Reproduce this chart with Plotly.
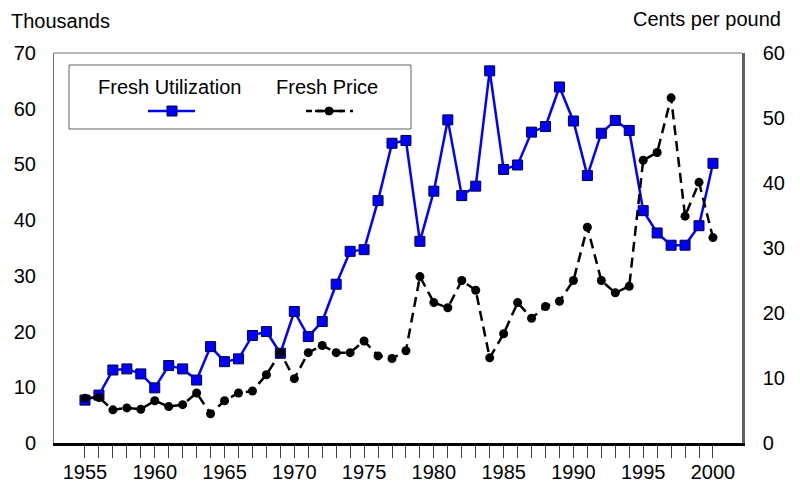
import plotly.graph_objects as go

years = list(range(1955, 2001))
utilization = [7.7, 8.6, 13.1, 13.3, 12.4, 9.9, 13.9, 13.3, 11.3, 17.3,
               14.6, 15.1, 19.3, 20.0, 16.1, 23.6, 19.1, 21.8, 28.5, 34.4,
               34.7, 43.5, 53.8, 54.3, 36.2, 45.2, 58.0, 44.4, 46.1, 66.8,
               49.1, 49.9, 55.8, 56.8, 63.9, 57.8, 48.0, 55.6, 57.9, 56.1,
               41.7, 37.7, 35.5, 35.5, 39.0, 50.2]
price = [6.9, 7.0, 5.1, 5.4, 5.2, 6.5, 5.6, 5.9, 7.7, 4.5,
         6.5, 7.7, 8.0, 10.5, 13.9, 9.9, 13.9, 15.0, 13.9, 13.9,
         15.7, 13.4, 13.0, 14.2, 25.6, 21.6, 20.8, 25.0, 23.5, 13.1,
         16.8, 21.6, 19.2, 21.0, 21.8, 25.0, 33.2, 25.0, 23.1, 24.1,
         43.5, 44.7, 53.1, 34.9, 40.1, 31.6]
tick_labels = [str(y) if y % 5 == 0 else "" for y in years]
left_ticks = [0, 10, 20, 30, 40, 50, 60, 70]
right_ticks = [0, 10, 20, 30, 40, 50, 60]

FONT = "Liberation Sans, Arial, sans-serif"
OFF = 8  # page body margin
W, H = 800 - OFF, 484 - OFF
L, T = 54 - OFF, 53 - OFF
R = W - (742 - OFF)
B = H - (443 - OFF)
PW, PH = W - L - R, H - T - B

def px(x):
    return (x - OFF - L) / PW

def py(y):
    return (H - B - (y - OFF)) / PH

fig = go.Figure()
fig.add_trace(go.Scatter(
    x=years, y=utilization, name="Fresh Utilization", mode="lines+markers",
    line=dict(color="#0000FF", width=2.5),
    marker=dict(symbol="square", size=10, color="#0000FF",
                line=dict(color="#000040", width=1)),
    yaxis="y", showlegend=False))
fig.add_trace(go.Scatter(
    x=years, y=price, name="Fresh Price", mode="lines+markers",
    line=dict(color="black", width=2.5, dash="10px,6px"),
    marker=dict(symbol="circle", size=9, color="black"),
    yaxis="y2", showlegend=False))

shapes = []
shapes.append(dict(type="line", xref="paper", yref="paper", x0=0, x1=1, y0=1, y1=1,
                   line=dict(color="#707070", width=1)))
shapes.append(dict(type="rect", xref="paper", yref="paper",
                   x0=px(69), x1=px(411), y0=py(129), y1=py(65),
                   line=dict(color="#606060", width=1), fillcolor="white", layer="above"))
shapes.append(dict(type="line", xref="paper", yref="paper",
                   x0=px(148), x1=px(195), y0=py(111), y1=py(111),
                   line=dict(color="#0000FF", width=2.5), layer="above"))
shapes.append(dict(type="rect", xref="paper", yref="paper",
                   x0=px(167), x1=px(177), y0=py(116), y1=py(106),
                   fillcolor="#0000FF", line=dict(color="#000040", width=1), layer="above"))
shapes.append(dict(type="line", xref="paper", yref="paper",
                   x0=px(306), x1=px(353), y0=py(111), y1=py(111),
                   line=dict(color="black", width=2.5, dash="6px,5px"), layer="above"))
shapes.append(dict(type="line", xref="paper", yref="paper",
                   x0=px(315), x1=px(343), y0=py(111), y1=py(111),
                   line=dict(color="black", width=2.5), layer="above"))
shapes.append(dict(type="circle", xref="paper", yref="paper",
                   x0=px(325), x1=px(333), y0=py(115), y1=py(107),
                   fillcolor="black", line=dict(color="black", width=1), layer="above"))

annotations = [
    dict(text="Fresh Utilization", xref="paper", yref="paper", x=px(169), y=py(87),
         xanchor="center", yanchor="middle", showarrow=False,
         font=dict(family=FONT, size=20, color="black")),
    dict(text="Fresh Price", xref="paper", yref="paper", x=px(327), y=py(87),
         xanchor="center", yanchor="middle", showarrow=False,
         font=dict(family=FONT, size=20, color="black")),
    dict(text="Thousands", xref="paper", yref="paper", x=px(9), y=py(21),
         xanchor="left", yanchor="middle", showarrow=False,
         font=dict(family=FONT, size=20, color="black")),
    dict(text="Cents per pound", xref="paper", yref="paper", x=px(783), y=py(19),
         xanchor="right", yanchor="middle", showarrow=False,
         font=dict(family=FONT, size=20, color="black")),
]

fig.update_layout(
    width=W, height=H,
    margin=dict(l=L, r=R, t=T, b=B, pad=0, autoexpand=False),
    paper_bgcolor="white", plot_bgcolor="white",
    font=dict(family=FONT, size=20, color="black"),
    shapes=shapes, annotations=annotations,
    xaxis=dict(range=[1952.78, 2002.08], tickmode="array", tickvals=years,
               ticktext=tick_labels, ticks="outside", ticklen=12, tickwidth=1,
               tickcolor="#404040", showgrid=False, zeroline=False,
               showline=True, linecolor="black", linewidth=2.5, automargin=False,
               ticklabelstandoff=-3,
               tickfont=dict(family=FONT, size=20, color="black")),
    yaxis=dict(range=[0, 70], tickvals=left_ticks, showgrid=False, zeroline=False,
               showline=True, linecolor="#707070", linewidth=1, ticks="",
               ticklabelstandoff=13, automargin=False,
               tickfont=dict(family=FONT, size=20, color="black")),
    yaxis2=dict(range=[0, 60], tickvals=right_ticks, overlaying="y", side="right",
                showgrid=False, zeroline=False, showline=True, linecolor="#606060",
                linewidth=2.5, ticks="", ticklabelstandoff=14, automargin=False,
                tickfont=dict(family=FONT, size=20, color="black")),
)

fig.write_html("out.html")
